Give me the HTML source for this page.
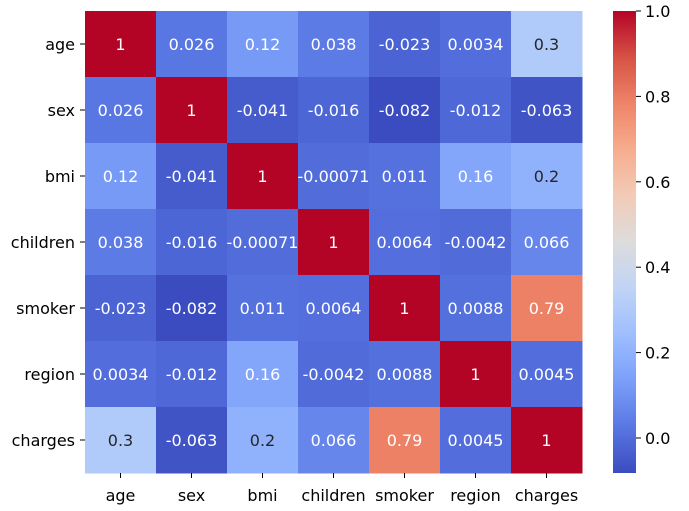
<!DOCTYPE html>
<html><head><meta charset="utf-8"><style>
body{margin:0;background:#fff}
svg{display:block;font-family:"DejaVu Sans","Liberation Sans",sans-serif}
</style></head><body>
<svg id="chart" width="689" height="511"></svg>
<script>
const labels=["age","sex","bmi","children","smoker","region","charges"];
const row0=[1,0.026,0.12,0.038,-0.023,0.0034,0.3];
const row1=[0.026,1,-0.041,-0.016,-0.082,-0.012,-0.063];
const row2=[0.12,-0.041,1,-0.00071,0.011,0.16,0.2];
const row3=[0.038,-0.016,-0.00071,1,0.0064,-0.0042,0.066];
const row4=[-0.023,-0.082,0.011,0.0064,1,0.0088,0.79];
const row5=[0.0034,-0.012,0.16,-0.0042,0.0088,1,0.0045];
const row6=[0.3,-0.063,0.2,0.066,0.79,0.0045,1];
const matrix=[row0,row1,row2,row3,row4,row5,row6];
const cbTicks=[0.0,0.2,0.4,0.6,0.8,1.0];
const vmin=-0.082,vmax=1;
const NS="http://www.w3.org/2000/svg";
const svg=document.getElementById('chart');
const L=85,R=582,T=11,B=473;
const FS=16;
const cw=(R-L)/labels.length,ch=(B-T)/labels.length;
const stops=[[59,76,192],[89,119,227],[123,159,249],[158,190,255],[192,212,245],[221,220,220],[242,203,183],[247,172,142],[238,132,104],[214,82,68],[180,4,38]];
function cmap(v){let t=(v-vmin)/(vmax-vmin);t=Math.max(0,Math.min(1,t))*10;const i=Math.min(9,Math.floor(t)),f=t-i;const a=stops[i],b=stops[i+1];return a.map((c,k)=>Math.round(c+(b[k]-c)*f));}
function lum(c){const l=c.map(x=>{x/=255;return x<=0.03928?x/12.92:Math.pow((x+0.055)/1.055,2.4)});return 0.2126*l[0]+0.7152*l[1]+0.0722*l[2];}
function el(tag,attrs){const e=document.createElementNS(NS,tag);for(const k in attrs)e.setAttribute(k,attrs[k]);svg.appendChild(e);return e;}
const xs=i=>L+cw*i, ys=i=>T+ch*i;
matrix.forEach((row,r)=>row.forEach((v,c)=>{
  const col=cmap(v);
  const rect=el('rect',{x:xs(c),y:ys(r),width:cw+0.5,height:ch+0.5,fill:`rgb(${col})`});
  
  
  const t=el('text',{x:xs(c)+cw/2,y:ys(r)+ch/2+6,'text-anchor':'middle','font-size':FS,fill:lum(col)>0.408?'#262626':'#ffffff'});
  t.textContent=String(v);
  
  
}));
labels.forEach((lab,i)=>{
  el('line',{x1:L-5,x2:L,y1:ys(i)+ch/2,y2:ys(i)+ch/2,stroke:'#000'});
  const t=el('text',{x:L-10,y:ys(i)+ch/2+6,'text-anchor':'end','font-size':FS,fill:'#000'});
  t.textContent=lab;
  
  
  el('line',{x1:xs(i)+cw/2,x2:xs(i)+cw/2,y1:B,y2:B+5,stroke:'#000'});
  const u=el('text',{x:xs(i)+cw/2,y:B+28,'text-anchor':'middle','font-size':FS,fill:'#000'});
  u.textContent=lab;
  
  
});
const CL=613,CR=636;
const cy=v=>B-(v-vmin)/(vmax-vmin)*(B-T);
const defs=el('defs',{});
const g=document.createElementNS(NS,'linearGradient');g.setAttribute('id','cg');g.setAttribute('x1',0);g.setAttribute('y1',1);g.setAttribute('x2',0);g.setAttribute('y2',0);defs.appendChild(g);
stops.forEach((s,i)=>{const st=document.createElementNS(NS,'stop');st.setAttribute('offset',i/10);st.setAttribute('stop-color',`rgb(${s})`);g.appendChild(st);});
const cb=el('rect',{x:CL,y:T,width:CR-CL,height:B-T,fill:'url(#cg)'});


cbTicks.forEach(v=>{
  el('line',{x1:CR,x2:CR+5,y1:cy(v),y2:cy(v),stroke:'#000'});
  const t=el('text',{x:CR+9,y:cy(v)+6,'font-size':FS,fill:'#000'});
  t.textContent=v.toFixed(1);
  
  
});
</script>
</body></html>
